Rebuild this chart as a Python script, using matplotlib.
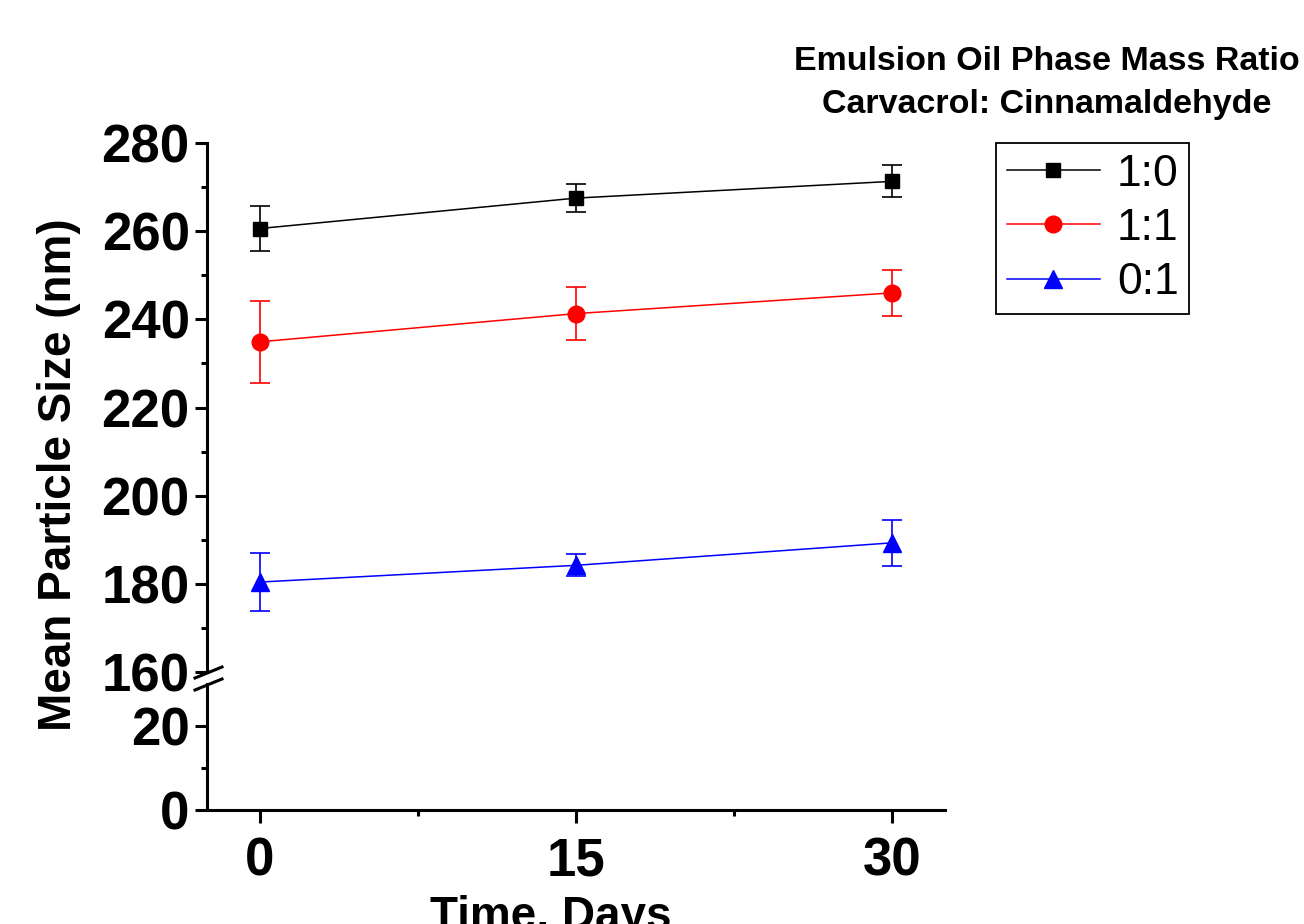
import matplotlib
matplotlib.use('Agg')
import matplotlib.pyplot as plt
from matplotlib.ticker import MultipleLocator, FixedLocator

plt.rcParams['font.family'] = ['Liberation Sans', 'DejaVu Sans']

days = [0, 15, 30]
ratios = ['1:0', '1:1', '0:1']
size_10 = [260.6, 267.5, 271.3]
err_10 = [5.2, 3.2, 3.6]
size_11 = [234.9, 241.3, 246.0]
err_11 = [9.3, 6.1, 5.2]
size_01 = [180.4, 184.2, 189.3]
err_01 = [6.6, 2.5, 5.2]

series = [(size_10, err_10, 'black', 's', 10.5),
          (size_11, err_11, 'red', 'o', 12),
          (size_01, err_01, 'blue', '^', 13)]

W, H = 1304, 924
fig = plt.figure(figsize=(W / 100, H / 100), dpi=100)

left = 207 / W
width = (945 - 207) / W
ax_top = fig.add_axes([left, 1 - 672 / H, width, (672 - 143) / H])
ax_bot = fig.add_axes([left, 1 - 810 / H, width, (810 - 684) / H])

handles = []
for (y, e, c, m, ms), lab in zip(series, ratios):
    ax_top.errorbar(days, y, yerr=e, fmt='none', ecolor=c, elinewidth=1.2,
                    capsize=7, capthick=1.2)
    h, = ax_top.plot(days, y, color=c, lw=1.1, marker=m, ms=ms, label=lab)
    handles.append(h)

for ax in (ax_top, ax_bot):
    ax.set_xlim(-2.5, 32.5)
    for s in ('top', 'right'):
        ax.spines[s].set_visible(False)
    ax.spines['left'].set_linewidth(2.2)
    ax.spines['bottom'].set_linewidth(2.2)
    ax.tick_params(axis='both', which='major', direction='out', length=9,
                   width=2.2, labelsize=38)
    ax.tick_params(axis='both', which='minor', direction='out', length=4.5,
                   width=2.2)

ax_top.set_ylim(160, 280)
ax_top.yaxis.set_major_locator(MultipleLocator(20))
ax_top.yaxis.set_minor_locator(MultipleLocator(10))
ax_top.spines['bottom'].set_visible(False)
ax_top.tick_params(axis='x', which='both', bottom=False, labelbottom=False)
ax_top.patch.set_alpha(0)

ax_bot.set_ylim(0, 30)
ax_bot.yaxis.set_major_locator(FixedLocator([0, 20]))
ax_bot.yaxis.set_minor_locator(FixedLocator([10]))
ax_bot.xaxis.set_major_locator(FixedLocator(days))
ax_bot.xaxis.set_minor_locator(FixedLocator([7.5, 22.5]))
ax_bot.tick_params(axis='x', which='major', pad=10)
ax_bot.patch.set_alpha(0)
for ax in (ax_top, ax_bot):
    for t in ax.get_yticklabels() + ax.get_xticklabels():
        t.set_fontweight('bold')

# break marks on the y axis
for yc in (672, 684):
    fig.add_artist(plt.Line2D([195 / W, 222 / W],
                              [1 - (yc + 6) / H, 1 - (yc - 5) / H],
                              color='black', lw=2.2))

fig.text(59 / W, 1 - 475 / H, 'Mean Particle Size (nm)', rotation=90,
         ha='center', va='center', fontsize=33, fontweight='bold')
fig.text(551 / W, 1 - 895 / H, 'Time, Days', ha='center', va='top',
         fontsize=33, fontweight='bold')

fig.text(1047 / W, 1 - 83 / H, 'Emulsion Oil Phase Mass Ratio\nCarvacrol: Cinnamaldehyde',
         ha='center', va='center', fontsize=24.5, fontweight='bold',
         linespacing=1.5)

leg = fig.legend(handles=handles, loc='upper left',
                 bbox_to_anchor=(996 / W, 1 - 143 / H), fontsize=32,
                 frameon=True, fancybox=False, edgecolor='black',
                 handlelength=2.1, handletextpad=0.38, labelspacing=0.3,
                 borderpad=0.24, borderaxespad=0, framealpha=1)
leg.get_frame().set_linewidth(1.3)

fig.savefig('out.png', dpi=100)
